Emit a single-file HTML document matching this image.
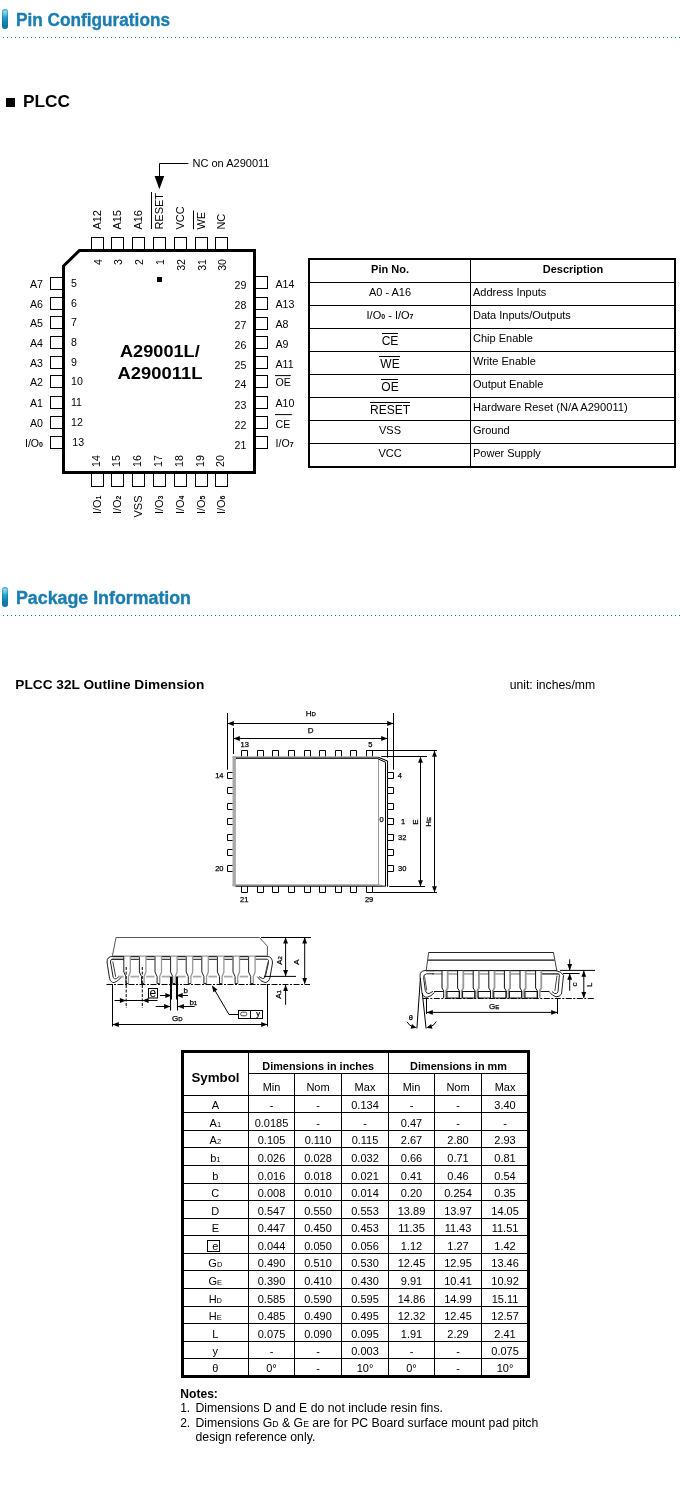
<!DOCTYPE html>
<html><head><meta charset="utf-8"><title>Pin Configurations</title>
<style>
html,body{margin:0;padding:0;background:#fff;}
body{width:680px;height:1487px;overflow:hidden;}
svg{display:block;will-change:transform;}
text{font-family:"Liberation Sans",sans-serif;}
</style></head><body>
<svg width="680" height="1487" viewBox="0 0 680 1487">
<defs>
<linearGradient id="pill" x1="0" y1="0" x2="0" y2="1">
<stop offset="0" stop-color="#2a9cc4"/><stop offset="0.12" stop-color="#8fdcef"/><stop offset="0.28" stop-color="#5ac4e0"/><stop offset="0.4" stop-color="#25a5cc"/><stop offset="0.65" stop-color="#1486b4"/><stop offset="1" stop-color="#0f6f9f"/>
</linearGradient>
<linearGradient id="pillh" x1="0" y1="0" x2="1" y2="0">
<stop offset="0" stop-color="#0a7096" stop-opacity="0.6"/><stop offset="0.3" stop-color="#0a7096" stop-opacity="0"/><stop offset="0.7" stop-color="#0a7096" stop-opacity="0"/><stop offset="1" stop-color="#0a7096" stop-opacity="0.6"/>
</linearGradient>
<pattern id="dots" x="3" y="0" width="4" height="1" patternUnits="userSpaceOnUse"><rect x="0" y="0" width="1" height="1" fill="#177583"/></pattern>
</defs>
<rect x="2" y="9" width="6" height="20" rx="3" fill="url(#pill)"/>
<rect x="2" y="9" width="6" height="20" rx="3" fill="url(#pillh)"/>
<text x="16" y="26" font-size="17.5" font-weight="bold" fill="#1a7db1" textLength="154" lengthAdjust="spacingAndGlyphs" stroke="#1a7db1" stroke-width="0.35">Pin Configurations</text>
<rect x="3" y="37" width="677" height="1" fill="url(#dots)"/>
<rect x="2" y="587" width="6" height="20" rx="3" fill="url(#pill)"/>
<rect x="2" y="587" width="6" height="20" rx="3" fill="url(#pillh)"/>
<text x="16" y="604" font-size="17.5" font-weight="bold" fill="#1a7db1" textLength="175" lengthAdjust="spacingAndGlyphs" stroke="#1a7db1" stroke-width="0.35">Package Information</text>
<rect x="3" y="615" width="677" height="1" fill="url(#dots)"/>
<rect x="6" y="98" width="9" height="9" fill="#000"/>
<text x="23" y="107.4" font-size="17" font-weight="bold" textLength="47" lengthAdjust="spacingAndGlyphs" >PLCC</text>
<path d="M63.5,266 L79.5,250.5 L254.5,250.5 L254.5,472.5 L63.5,472.5 Z" stroke="#000" stroke-width="3" fill="none" />
<rect x="91.5" y="237.5" width="12" height="12.5" stroke="#000" stroke-width="1" fill="none" />
<rect x="91.5" y="473.5" width="12" height="13" stroke="#000" stroke-width="1" fill="none" />
<rect x="111.5" y="237.5" width="12" height="12.5" stroke="#000" stroke-width="1" fill="none" />
<rect x="111.5" y="473.5" width="12" height="13" stroke="#000" stroke-width="1" fill="none" />
<rect x="132.5" y="237.5" width="12" height="12.5" stroke="#000" stroke-width="1" fill="none" />
<rect x="132.5" y="473.5" width="12" height="13" stroke="#000" stroke-width="1" fill="none" />
<rect x="153.5" y="237.5" width="12" height="12.5" stroke="#000" stroke-width="1" fill="none" />
<rect x="153.5" y="473.5" width="12" height="13" stroke="#000" stroke-width="1" fill="none" />
<rect x="174.5" y="237.5" width="12" height="12.5" stroke="#000" stroke-width="1" fill="none" />
<rect x="174.5" y="473.5" width="12" height="13" stroke="#000" stroke-width="1" fill="none" />
<rect x="195.5" y="237.5" width="12" height="12.5" stroke="#000" stroke-width="1" fill="none" />
<rect x="195.5" y="473.5" width="12" height="13" stroke="#000" stroke-width="1" fill="none" />
<rect x="215.5" y="237.5" width="12" height="12.5" stroke="#000" stroke-width="1" fill="none" />
<rect x="215.5" y="473.5" width="12" height="13" stroke="#000" stroke-width="1" fill="none" />
<rect x="50.5" y="277.5" width="12" height="12" stroke="#000" stroke-width="1" fill="none" />
<rect x="50.5" y="297.5" width="12" height="12" stroke="#000" stroke-width="1" fill="none" />
<rect x="50.5" y="316.5" width="12" height="12" stroke="#000" stroke-width="1" fill="none" />
<rect x="50.5" y="336.5" width="12" height="12" stroke="#000" stroke-width="1" fill="none" />
<rect x="50.5" y="356.5" width="12" height="12" stroke="#000" stroke-width="1" fill="none" />
<rect x="50.5" y="375.5" width="12" height="12" stroke="#000" stroke-width="1" fill="none" />
<rect x="50.5" y="396.5" width="12" height="12" stroke="#000" stroke-width="1" fill="none" />
<rect x="50.5" y="416.5" width="12" height="12" stroke="#000" stroke-width="1" fill="none" />
<rect x="50.5" y="436.5" width="12" height="12" stroke="#000" stroke-width="1" fill="none" />
<rect x="255.5" y="276.5" width="12" height="12" stroke="#000" stroke-width="1" fill="none" />
<rect x="255.5" y="297.5" width="12" height="12" stroke="#000" stroke-width="1" fill="none" />
<rect x="255.5" y="317.5" width="12" height="12" stroke="#000" stroke-width="1" fill="none" />
<rect x="255.5" y="336.5" width="12" height="12" stroke="#000" stroke-width="1" fill="none" />
<rect x="255.5" y="356.5" width="12" height="12" stroke="#000" stroke-width="1" fill="none" />
<rect x="255.5" y="375.5" width="12" height="12" stroke="#000" stroke-width="1" fill="none" />
<rect x="255.5" y="396.5" width="12" height="12" stroke="#000" stroke-width="1" fill="none" />
<rect x="255.5" y="416.5" width="12" height="12" stroke="#000" stroke-width="1" fill="none" />
<rect x="255.5" y="436.5" width="12" height="12" stroke="#000" stroke-width="1" fill="none" />
<text x="43" y="287.6" font-size="10.6" text-anchor="end" >A7</text>
<text x="71" y="286.7" font-size="10.6" >5</text>
<text x="43" y="307.6" font-size="10.6" text-anchor="end" >A6</text>
<text x="71" y="306.7" font-size="10.6" >6</text>
<text x="43" y="327.20000000000005" font-size="10.6" text-anchor="end" >A5</text>
<text x="71" y="326.3" font-size="10.6" >7</text>
<text x="43" y="347.1" font-size="10.6" text-anchor="end" >A4</text>
<text x="71" y="346.2" font-size="10.6" >8</text>
<text x="43" y="367.1" font-size="10.6" text-anchor="end" >A3</text>
<text x="71" y="366.2" font-size="10.6" >9</text>
<text x="43" y="386.0" font-size="10.6" text-anchor="end" >A2</text>
<text x="71" y="385.09999999999997" font-size="10.6" >10</text>
<text x="43" y="406.90000000000003" font-size="10.6" text-anchor="end" >A1</text>
<text x="71" y="406.0" font-size="10.6" >11</text>
<text x="43" y="427.20000000000005" font-size="10.6" text-anchor="end" >A0</text>
<text x="71" y="426.3" font-size="10.6" >12</text>
<text x="43" y="447.0" font-size="10.6" text-anchor="end" >I/O<tspan font-size="7" font-weight="bold">0</tspan></text>
<text x="72.3" y="446.09999999999997" font-size="10.6" >13</text>
<text x="246.3" y="289.3" font-size="10.6" text-anchor="end" >29</text>
<text x="275.5" y="288.0" font-size="10.6" >A14</text>
<text x="246.3" y="309.3" font-size="10.6" text-anchor="end" >28</text>
<text x="275.5" y="308.0" font-size="10.6" >A13</text>
<text x="246.3" y="328.90000000000003" font-size="10.6" text-anchor="end" >27</text>
<text x="275.5" y="327.6" font-size="10.6" >A8</text>
<text x="246.3" y="348.8" font-size="10.6" text-anchor="end" >26</text>
<text x="275.5" y="347.5" font-size="10.6" >A9</text>
<text x="246.3" y="368.8" font-size="10.6" text-anchor="end" >25</text>
<text x="275.5" y="367.5" font-size="10.6" >A11</text>
<text x="246.3" y="387.7" font-size="10.6" text-anchor="end" >24</text>
<text x="275.5" y="386.4" font-size="10.6" >OE</text>
<text x="246.3" y="408.6" font-size="10.6" text-anchor="end" >23</text>
<text x="275.5" y="407.3" font-size="10.6" >A10</text>
<text x="246.3" y="428.90000000000003" font-size="10.6" text-anchor="end" >22</text>
<text x="275.5" y="427.6" font-size="10.6" >CE</text>
<text x="246.3" y="448.7" font-size="10.6" text-anchor="end" >21</text>
<text x="275.5" y="447.4" font-size="10.6" >I/O<tspan font-size="7" font-weight="bold">7</tspan></text>
<line x1="275" y1="375.6" x2="290.8" y2="375.6" stroke="#000" stroke-width="1" />
<line x1="275" y1="414.6" x2="291.8" y2="414.6" stroke="#000" stroke-width="1" />
<text x="0" y="0" font-size="11" transform="translate(100.9,229.6) rotate(-90)" >A12</text>
<text x="0" y="0" font-size="10.6" text-anchor="end" transform="translate(101.5,259.0) rotate(-90)" >4</text>
<text x="0" y="0" font-size="11" transform="translate(120.9,229.6) rotate(-90)" >A15</text>
<text x="0" y="0" font-size="10.6" text-anchor="end" transform="translate(121.5,259.0) rotate(-90)" >3</text>
<text x="0" y="0" font-size="11" transform="translate(141.9,229.6) rotate(-90)" >A16</text>
<text x="0" y="0" font-size="10.6" text-anchor="end" transform="translate(142.5,259.0) rotate(-90)" >2</text>
<text x="0" y="0" font-size="11" transform="translate(162.9,229.6) rotate(-90)" >RESET</text>
<text x="0" y="0" font-size="10.6" text-anchor="end" transform="translate(163.5,259.0) rotate(-90)" >1</text>
<text x="0" y="0" font-size="11" transform="translate(183.9,229.6) rotate(-90)" >VCC</text>
<text x="0" y="0" font-size="10.6" text-anchor="end" transform="translate(184.5,259.0) rotate(-90)" >32</text>
<text x="0" y="0" font-size="11" transform="translate(204.9,229.6) rotate(-90)" >WE</text>
<text x="0" y="0" font-size="10.6" text-anchor="end" transform="translate(205.5,259.0) rotate(-90)" >31</text>
<text x="0" y="0" font-size="11" transform="translate(224.9,229.6) rotate(-90)" >NC</text>
<text x="0" y="0" font-size="10.6" text-anchor="end" transform="translate(225.5,259.0) rotate(-90)" >30</text>
<line x1="151.5" y1="192" x2="151.5" y2="229" stroke="#000" stroke-width="1" />
<line x1="193.5" y1="210.5" x2="193.5" y2="229.2" stroke="#000" stroke-width="1" />
<text x="0" y="0" font-size="10.6" transform="translate(100.3,467.0) rotate(-90)" >14</text>
<text x="0" y="0" font-size="11" text-anchor="end" transform="translate(100.7,495.5) rotate(-90)" >I/O<tspan font-size="7" font-weight="bold">1</tspan></text>
<text x="0" y="0" font-size="10.6" transform="translate(120.3,467.0) rotate(-90)" >15</text>
<text x="0" y="0" font-size="11" text-anchor="end" transform="translate(120.7,495.5) rotate(-90)" >I/O<tspan font-size="7" font-weight="bold">2</tspan></text>
<text x="0" y="0" font-size="10.6" transform="translate(141.3,467.0) rotate(-90)" >16</text>
<text x="0" y="0" font-size="11" text-anchor="end" transform="translate(141.7,495.5) rotate(-90)" >VSS</text>
<text x="0" y="0" font-size="10.6" transform="translate(162.3,467.0) rotate(-90)" >17</text>
<text x="0" y="0" font-size="11" text-anchor="end" transform="translate(162.7,495.5) rotate(-90)" >I/O<tspan font-size="7" font-weight="bold">3</tspan></text>
<text x="0" y="0" font-size="10.6" transform="translate(183.3,467.0) rotate(-90)" >18</text>
<text x="0" y="0" font-size="11" text-anchor="end" transform="translate(183.7,495.5) rotate(-90)" >I/O<tspan font-size="7" font-weight="bold">4</tspan></text>
<text x="0" y="0" font-size="10.6" transform="translate(204.3,467.0) rotate(-90)" >19</text>
<text x="0" y="0" font-size="11" text-anchor="end" transform="translate(204.7,495.5) rotate(-90)" >I/O<tspan font-size="7" font-weight="bold">5</tspan></text>
<text x="0" y="0" font-size="10.6" transform="translate(224.3,467.0) rotate(-90)" >20</text>
<text x="0" y="0" font-size="11" text-anchor="end" transform="translate(224.7,495.5) rotate(-90)" >I/O<tspan font-size="7" font-weight="bold">6</tspan></text>
<text x="120" y="356.8" font-size="17" font-weight="bold" textLength="79.7" lengthAdjust="spacingAndGlyphs" >A29001L/</text>
<text x="117.6" y="378.8" font-size="17" font-weight="bold" textLength="84.8" lengthAdjust="spacingAndGlyphs" >A290011L</text>
<rect x="157" y="277" width="5" height="5" fill="#000"/>
<path d="M188.4,163.5 L159.5,163.5 L159.5,177" stroke="#000" stroke-width="1" fill="none" />
<polygon points="154.6,176 164.2,176 159.4,189.2" fill="#000" stroke="none" stroke-width="1"/>
<text x="192.5" y="166.9" font-size="11" textLength="77" lengthAdjust="spacingAndGlyphs" >NC on A290011</text>
<rect x="309" y="259" width="366" height="208" stroke="#000" stroke-width="2" fill="none" />
<line x1="470.5" y1="259" x2="470.5" y2="467" stroke="#000" stroke-width="1" />
<line x1="309" y1="282.5" x2="675" y2="282.5" stroke="#000" stroke-width="1" />
<line x1="309" y1="305.5" x2="675" y2="305.5" stroke="#000" stroke-width="1" />
<line x1="309" y1="328.5" x2="675" y2="328.5" stroke="#000" stroke-width="1" />
<line x1="309" y1="351.5" x2="675" y2="351.5" stroke="#000" stroke-width="1" />
<line x1="309" y1="374.5" x2="675" y2="374.5" stroke="#000" stroke-width="1" />
<line x1="309" y1="397.5" x2="675" y2="397.5" stroke="#000" stroke-width="1" />
<line x1="309" y1="420.5" x2="675" y2="420.5" stroke="#000" stroke-width="1" />
<line x1="309" y1="443.5" x2="675" y2="443.5" stroke="#000" stroke-width="1" />
<text x="390" y="272.8" font-size="11" font-weight="bold" text-anchor="middle" >Pin No.</text>
<text x="573" y="272.8" font-size="11" font-weight="bold" text-anchor="middle" >Description</text>
<text x="390" y="295.9" font-size="11" text-anchor="middle" >A0 - A16</text>
<text x="473" y="295.5" font-size="11" >Address Inputs</text>
<text x="390" y="318.9" font-size="11" text-anchor="middle" >I/O<tspan font-size="7" font-weight="bold">0</tspan> - I/O<tspan font-size="7" font-weight="bold">7</tspan></text>
<text x="473" y="318.5" font-size="11" >Data Inputs/Outputs</text>
<text x="390" y="344.9" font-size="12" text-anchor="middle" >CE</text>
<text x="473" y="341.5" font-size="11" >Chip Enable</text>
<text x="390" y="367.9" font-size="12" text-anchor="middle" >WE</text>
<text x="473" y="364.5" font-size="11" >Write Enable</text>
<text x="390" y="390.9" font-size="12" text-anchor="middle" >OE</text>
<text x="473" y="387.5" font-size="11" >Output Enable</text>
<text x="390" y="413.9" font-size="12" text-anchor="middle" >RESET</text>
<text x="473" y="410.5" font-size="11" textLength="154.6" lengthAdjust="spacingAndGlyphs" >Hardware Reset (N/A A290011)</text>
<text x="390" y="433.9" font-size="11" text-anchor="middle" >VSS</text>
<text x="473" y="433.5" font-size="11" >Ground</text>
<text x="390" y="456.9" font-size="11" text-anchor="middle" >VCC</text>
<text x="473" y="456.5" font-size="11" >Power Supply</text>
<line x1="382" y1="333.5" x2="398" y2="333.5" stroke="#000" stroke-width="1" />
<line x1="379" y1="356.5" x2="400" y2="356.5" stroke="#000" stroke-width="1" />
<line x1="381" y1="379.5" x2="398" y2="379.5" stroke="#000" stroke-width="1" />
<line x1="370" y1="402.5" x2="410" y2="402.5" stroke="#000" stroke-width="1" />
<text x="15.3" y="688.7" font-size="12.6" font-weight="bold" textLength="189" lengthAdjust="spacingAndGlyphs" >PLCC 32L Outline Dimension</text>
<text x="509.7" y="688.7" font-size="12" textLength="85.4" lengthAdjust="spacingAndGlyphs" >unit: inches/mm</text>
<line x1="227.5" y1="713" x2="227.5" y2="769.7" stroke="#000" stroke-width="1" />
<line x1="393.5" y1="713" x2="393.5" y2="769.7" stroke="#000" stroke-width="1" />
<line x1="227.5" y1="723.5" x2="393.5" y2="723.5" stroke="#000" stroke-width="1" />
<polygon points="227.5,723.5 233.8,721.1 233.8,725.9" fill="#000" stroke="none" stroke-width="1"/>
<polygon points="393.5,723.5 387.2,725.9 387.2,721.1" fill="#000" stroke="none" stroke-width="1"/>
<text x="305.8" y="716.0" font-size="8" stroke="#000" stroke-width="0.25" >H<tspan font-size="6">D</tspan></text>
<line x1="233.5" y1="728" x2="233.5" y2="754" stroke="#000" stroke-width="1" />
<line x1="387.5" y1="728" x2="387.5" y2="757.6" stroke="#000" stroke-width="1" />
<line x1="233.5" y1="738.5" x2="387.5" y2="738.5" stroke="#000" stroke-width="1" />
<polygon points="233.5,738.5 239.8,736.1 239.8,740.9" fill="#000" stroke="none" stroke-width="1"/>
<polygon points="387.5,738.5 381.2,740.9 381.2,736.1" fill="#000" stroke="none" stroke-width="1"/>
<text x="307.8" y="732.9" font-size="8" stroke="#000" stroke-width="0.25" >D</text>
<text x="240.6" y="747.2" font-size="7.5" stroke="#000" stroke-width="0.25" >13</text>
<text x="368.2" y="747.2" font-size="7.5" stroke="#000" stroke-width="0.25" >5</text>
<rect x="232.5" y="756.3" width="146" height="1.5" fill="#a8a8a8"/>
<rect x="235.5" y="757.6" width="143" height="1.2" fill="#000"/>
<rect x="232.5" y="756.3" width="3.4" height="130" fill="#a8a8a8"/>
<rect x="232.5" y="884.2" width="146" height="2" fill="#a8a8a8"/>
<rect x="235.5" y="885.8" width="150" height="0.9" fill="#000"/>
<line x1="378.5" y1="757.5" x2="378.5" y2="885" stroke="#999" stroke-width="1" />
<path d="M378.3,757.2 L387.5,761 L387.5,886.8" stroke="#000" stroke-width="1.1" fill="none" />
<path d="M378.3,759 L385.5,762.2 L385.5,886.5" stroke="#000" stroke-width="1" fill="none" />
<path d="M378.5,884.8 L385.5,886.5" stroke="#777" stroke-width="1" fill="none" />
<path d="M241.5,756.3 L241.5,750.5 L247.5,750.5 L247.5,756.3" stroke="#000" stroke-width="1" fill="none" />
<path d="M241.5,886.3 L241.5,892.5 L247.5,892.5 L247.5,886.3" stroke="#000" stroke-width="1" fill="none" />
<path d="M257.5,756.3 L257.5,750.5 L263.5,750.5 L263.5,756.3" stroke="#000" stroke-width="1" fill="none" />
<path d="M257.5,886.3 L257.5,892.5 L263.5,892.5 L263.5,886.3" stroke="#000" stroke-width="1" fill="none" />
<path d="M272.5,756.3 L272.5,750.5 L278.5,750.5 L278.5,756.3" stroke="#000" stroke-width="1" fill="none" />
<path d="M272.5,886.3 L272.5,892.5 L278.5,892.5 L278.5,886.3" stroke="#000" stroke-width="1" fill="none" />
<path d="M288.5,756.3 L288.5,750.5 L294.5,750.5 L294.5,756.3" stroke="#000" stroke-width="1" fill="none" />
<path d="M288.5,886.3 L288.5,892.5 L294.5,892.5 L294.5,886.3" stroke="#000" stroke-width="1" fill="none" />
<path d="M304.5,756.3 L304.5,750.5 L310.5,750.5 L310.5,756.3" stroke="#000" stroke-width="1" fill="none" />
<path d="M304.5,886.3 L304.5,892.5 L310.5,892.5 L310.5,886.3" stroke="#000" stroke-width="1" fill="none" />
<path d="M319.5,756.3 L319.5,750.5 L325.5,750.5 L325.5,756.3" stroke="#000" stroke-width="1" fill="none" />
<path d="M319.5,886.3 L319.5,892.5 L325.5,892.5 L325.5,886.3" stroke="#000" stroke-width="1" fill="none" />
<path d="M335.5,756.3 L335.5,750.5 L341.5,750.5 L341.5,756.3" stroke="#000" stroke-width="1" fill="none" />
<path d="M335.5,886.3 L335.5,892.5 L341.5,892.5 L341.5,886.3" stroke="#000" stroke-width="1" fill="none" />
<path d="M350.5,756.3 L350.5,750.5 L356.5,750.5 L356.5,756.3" stroke="#000" stroke-width="1" fill="none" />
<path d="M350.5,886.3 L350.5,892.5 L356.5,892.5 L356.5,886.3" stroke="#000" stroke-width="1" fill="none" />
<path d="M366.5,756.3 L366.5,750.5 L372.5,750.5 L372.5,756.3" stroke="#000" stroke-width="1" fill="none" />
<path d="M366.5,886.3 L366.5,892.5 L372.5,892.5 L372.5,886.3" stroke="#000" stroke-width="1" fill="none" />
<path d="M232.5,772.5 L227.5,772.5 L227.5,778.5 L232.5,778.5" stroke="#000" stroke-width="1" fill="none" />
<path d="M387.8,772.5 L393.5,772.5 L393.5,778.5 L387.8,778.5" stroke="#000" stroke-width="1" fill="none" />
<path d="M232.5,787.5 L227.5,787.5 L227.5,793.5 L232.5,793.5" stroke="#000" stroke-width="1" fill="none" />
<path d="M387.8,787.5 L393.5,787.5 L393.5,793.5 L387.8,793.5" stroke="#000" stroke-width="1" fill="none" />
<path d="M232.5,803.5 L227.5,803.5 L227.5,809.5 L232.5,809.5" stroke="#000" stroke-width="1" fill="none" />
<path d="M387.8,803.5 L393.5,803.5 L393.5,809.5 L387.8,809.5" stroke="#000" stroke-width="1" fill="none" />
<path d="M232.5,818.5 L227.5,818.5 L227.5,824.5 L232.5,824.5" stroke="#000" stroke-width="1" fill="none" />
<path d="M387.8,818.5 L393.5,818.5 L393.5,824.5 L387.8,824.5" stroke="#000" stroke-width="1" fill="none" />
<path d="M232.5,834.5 L227.5,834.5 L227.5,840.5 L232.5,840.5" stroke="#000" stroke-width="1" fill="none" />
<path d="M387.8,834.5 L393.5,834.5 L393.5,840.5 L387.8,840.5" stroke="#000" stroke-width="1" fill="none" />
<path d="M232.5,849.5 L227.5,849.5 L227.5,855.5 L232.5,855.5" stroke="#000" stroke-width="1" fill="none" />
<path d="M387.8,849.5 L393.5,849.5 L393.5,855.5 L387.8,855.5" stroke="#000" stroke-width="1" fill="none" />
<path d="M232.5,865.5 L227.5,865.5 L227.5,871.5 L232.5,871.5" stroke="#000" stroke-width="1" fill="none" />
<path d="M387.8,865.5 L393.5,865.5 L393.5,871.5 L387.8,871.5" stroke="#000" stroke-width="1" fill="none" />
<text x="223.5" y="777.7" font-size="7.5" text-anchor="end" stroke="#000" stroke-width="0.25" >14</text>
<text x="223.5" y="870.7" font-size="7.5" text-anchor="end" stroke="#000" stroke-width="0.25" >20</text>
<text x="240" y="901.7" font-size="7.5" stroke="#000" stroke-width="0.25" >21</text>
<text x="364.9" y="901.7" font-size="7.5" stroke="#000" stroke-width="0.25" >29</text>
<text x="397.8" y="778.2" font-size="7.5" stroke="#000" stroke-width="0.25" >4</text>
<text x="401" y="824" font-size="7.5" stroke="#000" stroke-width="0.25" >1</text>
<text x="398.1" y="840.2" font-size="7.5" stroke="#000" stroke-width="0.25" >32</text>
<text x="398.1" y="871" font-size="7.5" stroke="#000" stroke-width="0.25" >30</text>
<text x="379.6" y="822" font-size="7.5" stroke="#000" stroke-width="0.25" >0</text>
<line x1="366.5" y1="750.5" x2="437" y2="750.5" stroke="#000" stroke-width="1" />
<line x1="381.2" y1="756.5" x2="427" y2="756.5" stroke="#000" stroke-width="1" />
<line x1="389.2" y1="886.5" x2="425" y2="886.5" stroke="#000" stroke-width="1" />
<line x1="372.6" y1="892.5" x2="437" y2="892.5" stroke="#000" stroke-width="1" />
<line x1="420.5" y1="757.5" x2="420.5" y2="886" stroke="#000" stroke-width="1" />
<polygon points="420.5,756.5 422.9,762.8 418.1,762.8" fill="#000" stroke="none" stroke-width="1"/>
<polygon points="420.5,886.5 418.1,880.2 422.9,880.2" fill="#000" stroke="none" stroke-width="1"/>
<line x1="434.5" y1="751" x2="434.5" y2="892" stroke="#000" stroke-width="1" />
<polygon points="434.5,750.5 436.9,756.8 432.1,756.8" fill="#000" stroke="none" stroke-width="1"/>
<polygon points="434.5,892.5 432.1,886.2 436.9,886.2" fill="#000" stroke="none" stroke-width="1"/>
<text x="0" y="0" font-size="8" stroke="#000" stroke-width="0.25" transform="translate(418.2,824.7) rotate(-90)" >E</text>
<text x="0" y="0" font-size="8" stroke="#000" stroke-width="0.25" transform="translate(430.8,826.7) rotate(-90)" >H<tspan font-size="6">E</tspan></text>
<path d="M112.3,956.4 L116,937.5 L259.4,937.5 L267.4,946.2 L267.4,956.4" stroke="#555" stroke-width="1" fill="none" />
<line x1="261" y1="937.5" x2="311" y2="937.5" stroke="#000" stroke-width="1" />
<line x1="112" y1="956.2" x2="268" y2="956.2" stroke="#999" stroke-width="1.2" />
<line x1="130.5" y1="956.7" x2="138.9" y2="956.7" stroke="#111" stroke-width="1" />
<line x1="130.5" y1="959.3" x2="138.9" y2="959.3" stroke="#111" stroke-width="1" />
<line x1="130.5" y1="976.6" x2="138.9" y2="976.6" stroke="#aaa" stroke-width="1.8" />
<path d="M123.8,956.5 L123.8,972 L125.89999999999999,976.5 L125.89999999999999,983.6" stroke="#222" stroke-width="1" fill="none" />
<path d="M130.3,956.5 L130.3,972 L128.5,976.5 L128.5,983.6" stroke="#999" stroke-width="1.3" fill="none" />
<line x1="125.89999999999999" y1="983.6" x2="128.5" y2="983.6" stroke="#111" stroke-width="1" />
<line x1="146.1" y1="956.7" x2="154.5" y2="956.7" stroke="#111" stroke-width="1" />
<line x1="146.1" y1="959.3" x2="154.5" y2="959.3" stroke="#111" stroke-width="1" />
<line x1="146.1" y1="976.6" x2="154.5" y2="976.6" stroke="#aaa" stroke-width="1.8" />
<path d="M139.4,956.5 L139.4,972 L141.5,976.5 L141.5,983.6" stroke="#222" stroke-width="1" fill="none" />
<path d="M145.9,956.5 L145.9,972 L144.1,976.5 L144.1,983.6" stroke="#999" stroke-width="1.3" fill="none" />
<line x1="141.5" y1="983.6" x2="144.1" y2="983.6" stroke="#111" stroke-width="1" />
<line x1="161.7" y1="956.7" x2="170.1" y2="956.7" stroke="#111" stroke-width="1" />
<line x1="161.7" y1="959.3" x2="170.1" y2="959.3" stroke="#111" stroke-width="1" />
<line x1="161.7" y1="976.6" x2="170.1" y2="976.6" stroke="#aaa" stroke-width="1.8" />
<path d="M155.0,956.5 L155.0,972 L157.1,976.5 L157.1,983.6" stroke="#222" stroke-width="1" fill="none" />
<path d="M161.5,956.5 L161.5,972 L159.7,976.5 L159.7,983.6" stroke="#999" stroke-width="1.3" fill="none" />
<line x1="157.1" y1="983.6" x2="159.7" y2="983.6" stroke="#111" stroke-width="1" />
<line x1="177.29999999999998" y1="956.7" x2="185.7" y2="956.7" stroke="#111" stroke-width="1" />
<line x1="177.29999999999998" y1="959.3" x2="185.7" y2="959.3" stroke="#111" stroke-width="1" />
<line x1="177.29999999999998" y1="976.6" x2="185.7" y2="976.6" stroke="#aaa" stroke-width="1.8" />
<path d="M170.6,956.5 L170.6,972 L172.7,976.5 L172.7,983.6" stroke="#222" stroke-width="1" fill="none" />
<path d="M177.1,956.5 L177.1,972 L175.29999999999998,976.5 L175.29999999999998,983.6" stroke="#999" stroke-width="1.3" fill="none" />
<line x1="172.7" y1="983.6" x2="175.29999999999998" y2="983.6" stroke="#111" stroke-width="1" />
<line x1="192.89999999999998" y1="956.7" x2="201.3" y2="956.7" stroke="#111" stroke-width="1" />
<line x1="192.89999999999998" y1="959.3" x2="201.3" y2="959.3" stroke="#111" stroke-width="1" />
<line x1="192.89999999999998" y1="976.6" x2="201.3" y2="976.6" stroke="#aaa" stroke-width="1.8" />
<path d="M186.2,956.5 L186.2,972 L188.29999999999998,976.5 L188.29999999999998,983.6" stroke="#222" stroke-width="1" fill="none" />
<path d="M192.7,956.5 L192.7,972 L190.89999999999998,976.5 L190.89999999999998,983.6" stroke="#999" stroke-width="1.3" fill="none" />
<line x1="188.29999999999998" y1="983.6" x2="190.89999999999998" y2="983.6" stroke="#111" stroke-width="1" />
<line x1="208.5" y1="956.7" x2="216.89999999999998" y2="956.7" stroke="#111" stroke-width="1" />
<line x1="208.5" y1="959.3" x2="216.89999999999998" y2="959.3" stroke="#111" stroke-width="1" />
<line x1="208.5" y1="976.6" x2="216.89999999999998" y2="976.6" stroke="#aaa" stroke-width="1.8" />
<path d="M201.8,956.5 L201.8,972 L203.9,976.5 L203.9,983.6" stroke="#222" stroke-width="1" fill="none" />
<path d="M208.3,956.5 L208.3,972 L206.5,976.5 L206.5,983.6" stroke="#999" stroke-width="1.3" fill="none" />
<line x1="203.9" y1="983.6" x2="206.5" y2="983.6" stroke="#111" stroke-width="1" />
<line x1="224.09999999999997" y1="956.7" x2="232.5" y2="956.7" stroke="#111" stroke-width="1" />
<line x1="224.09999999999997" y1="959.3" x2="232.5" y2="959.3" stroke="#111" stroke-width="1" />
<line x1="224.09999999999997" y1="976.6" x2="232.5" y2="976.6" stroke="#aaa" stroke-width="1.8" />
<path d="M217.39999999999998,956.5 L217.39999999999998,972 L219.49999999999997,976.5 L219.49999999999997,983.6" stroke="#222" stroke-width="1" fill="none" />
<path d="M223.89999999999998,956.5 L223.89999999999998,972 L222.09999999999997,976.5 L222.09999999999997,983.6" stroke="#999" stroke-width="1.3" fill="none" />
<line x1="219.49999999999997" y1="983.6" x2="222.09999999999997" y2="983.6" stroke="#111" stroke-width="1" />
<line x1="239.7" y1="956.7" x2="248.1" y2="956.7" stroke="#111" stroke-width="1" />
<line x1="239.7" y1="959.3" x2="248.1" y2="959.3" stroke="#111" stroke-width="1" />
<line x1="239.7" y1="976.6" x2="248.1" y2="976.6" stroke="#aaa" stroke-width="1.8" />
<path d="M233.0,956.5 L233.0,972 L235.1,976.5 L235.1,983.6" stroke="#222" stroke-width="1" fill="none" />
<path d="M239.5,956.5 L239.5,972 L237.7,976.5 L237.7,983.6" stroke="#999" stroke-width="1.3" fill="none" />
<line x1="235.1" y1="983.6" x2="237.7" y2="983.6" stroke="#111" stroke-width="1" />
<line x1="255.29999999999998" y1="956.7" x2="255.5" y2="956.7" stroke="#111" stroke-width="1" />
<line x1="255.29999999999998" y1="959.3" x2="255.5" y2="959.3" stroke="#111" stroke-width="1" />
<line x1="255.29999999999998" y1="976.6" x2="255.5" y2="976.6" stroke="#aaa" stroke-width="1.8" />
<path d="M248.6,956.5 L248.6,972 L250.7,976.5 L250.7,983.6" stroke="#222" stroke-width="1" fill="none" />
<path d="M255.1,956.5 L255.1,972 L253.29999999999998,976.5 L253.29999999999998,983.6" stroke="#999" stroke-width="1.3" fill="none" />
<line x1="250.7" y1="983.6" x2="253.29999999999998" y2="983.6" stroke="#111" stroke-width="1" />
<line x1="112.4" y1="956.7" x2="123.8" y2="956.7" stroke="#111" stroke-width="1" />
<line x1="111.5" y1="959.3" x2="123.8" y2="959.3" stroke="#111" stroke-width="1" />
<line x1="118" y1="976.6" x2="123.8" y2="976.6" stroke="#aaa" stroke-width="1.8" />
<path d="M123.8,956.4 L112.4,956.4 Q107,956.6 107,962 L109.5,978.2 Q110.5,982.6 114,982.6 Q118,981.5 121.2,977.3" stroke="#222" stroke-width="1" fill="none" />
<path d="M123.5,959.3 L112,959.3 Q110.4,959.5 110.5,962 L113.2,977.5 Q114.2,979.6 116.5,978.6 L118.5,977" stroke="#222" stroke-width="1" fill="none" />
<path d="M112.8,961.5 L115.7,976.8" stroke="#444" stroke-width="1" fill="none" />
<path d="M255.5,956.4 L267.4,956.4 Q272.5,956.8 272.5,963 L270,977.5 Q268.8,982.4 265,982.5 Q261,982 257.3,976.6" stroke="#222" stroke-width="1" fill="none" />
<path d="M255.8,959.2 L267.4,959.2 Q268.8,959.6 268.5,962.5 L265.5,976 Q264.7,979 262.5,978.5 L259,976.6" stroke="#222" stroke-width="1" fill="none" />
<path d="M268,962 L264.8,976.4" stroke="#444" stroke-width="1" fill="none" />
<line x1="106.5" y1="984.5" x2="310" y2="984.5" stroke="#000" stroke-width="1" stroke-dasharray="6,1.5,2,1.5"/>
<line x1="264" y1="976.4" x2="296" y2="976.4" stroke="#000" stroke-width="1" />
<line x1="285.6" y1="938" x2="285.6" y2="976" stroke="#000" stroke-width="1" />
<polygon points="285.6,937.3 288.0,943.5999999999999 283.20000000000005,943.5999999999999" fill="#000" stroke="none" stroke-width="1"/>
<polygon points="285.6,976.4 283.20000000000005,970.1 288.0,970.1" fill="#000" stroke="none" stroke-width="1"/>
<line x1="304.7" y1="938" x2="304.7" y2="983.5" stroke="#000" stroke-width="1" />
<polygon points="304.7,937.3 307.09999999999997,943.5999999999999 302.3,943.5999999999999" fill="#000" stroke="none" stroke-width="1"/>
<polygon points="304.7,984.2 302.3,977.9000000000001 307.09999999999997,977.9000000000001" fill="#000" stroke="none" stroke-width="1"/>
<line x1="285.6" y1="985" x2="285.6" y2="1004.8" stroke="#000" stroke-width="1" />
<polygon points="285.6,984.8 288.0,991.0999999999999 283.20000000000005,991.0999999999999" fill="#000" stroke="none" stroke-width="1"/>
<text x="0" y="0" font-size="8" stroke="#000" stroke-width="0.25" transform="translate(281.6,964.8) rotate(-90)" >A<tspan font-size="6">2</tspan></text>
<text x="0" y="0" font-size="8" stroke="#000" stroke-width="0.25" transform="translate(298.8,964.8) rotate(-90)" >A</text>
<text x="0" y="0" font-size="8" stroke="#000" stroke-width="0.25" transform="translate(281.4,998.8) rotate(-90)" >A<tspan font-size="6">1</tspan></text>
<line x1="112.5" y1="984" x2="112.5" y2="1026.5" stroke="#000" stroke-width="1" />
<line x1="267.5" y1="984" x2="267.5" y2="1026.5" stroke="#000" stroke-width="1" />
<line x1="112.5" y1="1024.5" x2="267.5" y2="1024.5" stroke="#000" stroke-width="1" />
<polygon points="112.5,1024.5 118.8,1022.1 118.8,1026.9" fill="#000" stroke="none" stroke-width="1"/>
<polygon points="267.5,1024.5 261.2,1026.9 261.2,1022.1" fill="#000" stroke="none" stroke-width="1"/>
<text x="172" y="1021.4" font-size="8" stroke="#000" stroke-width="0.25" >G<tspan font-size="6">D</tspan></text>
<line x1="126.2" y1="967" x2="126.2" y2="1008" stroke="#000" stroke-width="1" stroke-dasharray="3,1.5"/>
<line x1="142.3" y1="967" x2="142.3" y2="1008" stroke="#000" stroke-width="1" stroke-dasharray="3,1.5"/>
<line x1="114.5" y1="1000.5" x2="157.5" y2="1000.5" stroke="#000" stroke-width="1" />
<polygon points="126.2,1000.5 119.9,1002.9 119.9,998.1" fill="#000" stroke="none" stroke-width="1"/>
<polygon points="142.3,1000.5 148.60000000000002,998.1 148.60000000000002,1002.9" fill="#000" stroke="none" stroke-width="1"/>
<rect x="148.5" y="988.5" width="9" height="9.5" stroke="#000" stroke-width="1" fill="#fff" />
<text x="149.6" y="997.0" font-size="12" >e</text>
<line x1="170.5" y1="976.5" x2="170.5" y2="1010.5" stroke="#000" stroke-width="1.1" />
<line x1="177.5" y1="976.5" x2="177.5" y2="1010.5" stroke="#000" stroke-width="1.1" />
<line x1="171.5" y1="976.5" x2="171.5" y2="999.5" stroke="#000" stroke-width="1" />
<line x1="176.5" y1="976.5" x2="176.5" y2="999.5" stroke="#000" stroke-width="1" />
<line x1="160" y1="995.5" x2="171.5" y2="995.5" stroke="#000" stroke-width="1" />
<polygon points="171.6,995.5 165.29999999999998,997.9 165.29999999999998,993.1" fill="#000" stroke="none" stroke-width="1"/>
<line x1="188" y1="995.5" x2="176.5" y2="995.5" stroke="#000" stroke-width="1" />
<polygon points="176.4,995.5 182.70000000000002,993.1 182.70000000000002,997.9" fill="#000" stroke="none" stroke-width="1"/>
<text x="183.6" y="992.7" font-size="8" stroke="#000" stroke-width="0.25" >b</text>
<line x1="155.7" y1="1006.5" x2="170.5" y2="1006.5" stroke="#000" stroke-width="1" />
<polygon points="170.4,1006.5 164.1,1008.9 164.1,1004.1" fill="#000" stroke="none" stroke-width="1"/>
<line x1="194.7" y1="1006.5" x2="177.5" y2="1006.5" stroke="#000" stroke-width="1" />
<polygon points="177.6,1006.5 183.9,1004.1 183.9,1008.9" fill="#000" stroke="none" stroke-width="1"/>
<text x="189.4" y="1004.6" font-size="8" stroke="#000" stroke-width="0.25" >b<tspan font-size="6">1</tspan></text>
<line x1="212.5" y1="986.3" x2="229" y2="1014.5" stroke="#000" stroke-width="1" />
<polygon points="212.0,985.6 217.42560116617878,989.6016061757199 213.38794448437133,992.1972426140247" fill="#000" stroke="none" stroke-width="1"/>
<line x1="229" y1="1014.5" x2="238.5" y2="1014.5" stroke="#000" stroke-width="1" />
<rect x="238.5" y="1010.5" width="24" height="8" stroke="#000" stroke-width="1" fill="none" />
<line x1="250.5" y1="1010.5" x2="250.5" y2="1018.5" stroke="#000" stroke-width="1" />
<rect x="240.7" y="1012.2" width="6" height="3.6" rx="1.4" stroke="#444" stroke-width="1" fill="none"/>
<text x="256.2" y="1016.3" font-size="7.5" stroke="#000" stroke-width="0.25" >y</text>
<line x1="428.7" y1="952.5" x2="553.4" y2="952.5" stroke="#222" stroke-width="1" />
<line x1="428" y1="960.2" x2="554.5" y2="960.2" stroke="#111" stroke-width="1.2" />
<path d="M428.7,952.2 L426.2,970.6" stroke="#444" stroke-width="1" fill="none" />
<path d="M553.4,952.2 L556.8,970.6" stroke="#444" stroke-width="1" fill="none" />
<line x1="426" y1="970.6" x2="557" y2="970.6" stroke="#222" stroke-width="1.1" />
<line x1="432" y1="973.8" x2="559.5" y2="973.8" stroke="#aaa" stroke-width="1.8" />
<rect x="442.0" y="971.2" width="6" height="4" fill="#fff"/>
<path d="M442.0,970.8 L442.0,988 L443.7,990.8 L443.7,998" stroke="#111" stroke-width="1" fill="none" />
<path d="M447.7,970.8 L447.7,988 L446.1,990.8 L446.1,998" stroke="#999" stroke-width="1.8" fill="none" />
<rect x="447.0" y="991.5" width="12.300000000000011" height="6.5" stroke="#111" stroke-width="1" fill="none" />
<rect x="457.6" y="971.2" width="6" height="4" fill="#fff"/>
<path d="M457.6,970.8 L457.6,988 L459.3,990.8 L459.3,998" stroke="#111" stroke-width="1" fill="none" />
<path d="M463.3,970.8 L463.3,988 L461.70000000000005,990.8 L461.70000000000005,998" stroke="#999" stroke-width="1.8" fill="none" />
<rect x="462.6" y="991.5" width="12.299999999999955" height="6.5" stroke="#111" stroke-width="1" fill="none" />
<rect x="473.2" y="971.2" width="6" height="4" fill="#fff"/>
<path d="M473.2,970.8 L473.2,988 L474.9,990.8 L474.9,998" stroke="#111" stroke-width="1" fill="none" />
<path d="M478.9,970.8 L478.9,988 L477.3,990.8 L477.3,998" stroke="#999" stroke-width="1.8" fill="none" />
<rect x="478.2" y="991.5" width="12.300000000000011" height="6.5" stroke="#111" stroke-width="1" fill="none" />
<rect x="488.8" y="971.2" width="6" height="4" fill="#fff"/>
<path d="M488.8,970.8 L488.8,988 L490.5,990.8 L490.5,998" stroke="#111" stroke-width="1" fill="none" />
<path d="M494.5,970.8 L494.5,988 L492.90000000000003,990.8 L492.90000000000003,998" stroke="#999" stroke-width="1.8" fill="none" />
<rect x="493.8" y="991.5" width="12.299999999999955" height="6.5" stroke="#111" stroke-width="1" fill="none" />
<rect x="504.4" y="971.2" width="6" height="4" fill="#fff"/>
<path d="M504.4,970.8 L504.4,988 L506.09999999999997,990.8 L506.09999999999997,998" stroke="#111" stroke-width="1" fill="none" />
<path d="M510.09999999999997,970.8 L510.09999999999997,988 L508.5,990.8 L508.5,998" stroke="#999" stroke-width="1.8" fill="none" />
<rect x="509.4" y="991.5" width="12.300000000000068" height="6.5" stroke="#111" stroke-width="1" fill="none" />
<rect x="520.0" y="971.2" width="6" height="4" fill="#fff"/>
<path d="M520.0,970.8 L520.0,988 L521.7,990.8 L521.7,998" stroke="#111" stroke-width="1" fill="none" />
<path d="M525.7,970.8 L525.7,988 L524.1,990.8 L524.1,998" stroke="#999" stroke-width="1.8" fill="none" />
<rect x="525.0" y="991.5" width="12.300000000000068" height="6.5" stroke="#111" stroke-width="1" fill="none" />
<rect x="535.6" y="971.2" width="6" height="4" fill="#fff"/>
<path d="M535.6,970.8 L535.6,988 L537.3000000000001,990.8 L537.3000000000001,998" stroke="#111" stroke-width="1" fill="none" />
<path d="M541.3000000000001,970.8 L541.3000000000001,988 L539.7,990.8 L539.7,998" stroke="#999" stroke-width="1.8" fill="none" />
<line x1="540.6" y1="991.5" x2="549.5" y2="991.5" stroke="#111" stroke-width="1" />
<line x1="434" y1="991.5" x2="443.7" y2="991.5" stroke="#111" stroke-width="1" />
<path d="M434,970.6 L425,970.6 Q420,970.8 420,976 L422,993 Q423,997.3 427,997.3 Q431,996.5 434.5,992.5" stroke="#222" stroke-width="1" fill="none" />
<path d="M434,973.8 L426.5,973.8 Q423.5,974.2 423.6,977.5 L425.3,990.5 Q426.2,994 429,993.6 L433,991.4" stroke="#222" stroke-width="1" fill="none" />
<path d="M424.5,976.5 L426.8,990.5" stroke="#555" stroke-width="1" fill="none" />
<path d="M556,970.6 Q561.5,971.5 563.5,975.4 L561.5,994 Q559.5,997 556,996.8 Q552,995.5 549.6,992.2" stroke="#222" stroke-width="1" fill="none" />
<path d="M542.3,973.9 L558.5,973.9 Q560,974.5 559.2,977.6 L558,991.8 Q557,994.2 554.5,993.5 L552,991.6" stroke="#222" stroke-width="1" fill="none" />
<path d="M557,975.5 L554.9,990.9" stroke="#444" stroke-width="1" fill="none" />
<line x1="422.8" y1="998.5" x2="595" y2="998.5" stroke="#000" stroke-width="1" stroke-dasharray="6,1.5,2,1.5"/>
<line x1="426.5" y1="998" x2="426.5" y2="1014" stroke="#000" stroke-width="1" />
<line x1="557.5" y1="998" x2="557.5" y2="1014" stroke="#000" stroke-width="1" />
<line x1="426.5" y1="1012.4" x2="557.5" y2="1012.4" stroke="#000" stroke-width="1" />
<polygon points="426.5,1012.4 432.8,1010.0 432.8,1014.8" fill="#000" stroke="none" stroke-width="1"/>
<polygon points="557.5,1012.4 551.2,1014.8 551.2,1010.0" fill="#000" stroke="none" stroke-width="1"/>
<text x="489" y="1009.2" font-size="8" stroke="#000" stroke-width="0.25" >G<tspan font-size="6">E</tspan></text>
<line x1="560" y1="970.4" x2="595" y2="970.4" stroke="#000" stroke-width="1" />
<line x1="563" y1="973.5" x2="579.6" y2="973.5" stroke="#000" stroke-width="1" />
<line x1="569.7" y1="959.3" x2="569.7" y2="970" stroke="#000" stroke-width="1" />
<polygon points="569.7,970.4 567.3000000000001,964.1 572.1,964.1" fill="#000" stroke="none" stroke-width="1"/>
<line x1="569.7" y1="974" x2="569.7" y2="990.7" stroke="#000" stroke-width="1" />
<polygon points="569.7,973.5 572.1,979.8 567.3000000000001,979.8" fill="#000" stroke="none" stroke-width="1"/>
<text x="0" y="0" font-size="8" stroke="#000" stroke-width="0.25" transform="translate(577,986.5) rotate(-90)" >c</text>
<line x1="583.8" y1="971" x2="583.8" y2="997.7" stroke="#000" stroke-width="1" />
<polygon points="583.8,970.4 586.1999999999999,976.6999999999999 581.4,976.6999999999999" fill="#000" stroke="none" stroke-width="1"/>
<polygon points="583.8,998.2 581.4,991.9000000000001 586.1999999999999,991.9000000000001" fill="#000" stroke="none" stroke-width="1"/>
<text x="0" y="0" font-size="8" stroke="#000" stroke-width="0.25" transform="translate(592,987) rotate(-90)" >L</text>
<line x1="420.4" y1="978" x2="416.9" y2="1028.5" stroke="#000" stroke-width="1" />
<line x1="422.3" y1="993" x2="426.1" y2="1028.5" stroke="#000" stroke-width="1" />
<path d="M407,1021.8 Q409,1025.3 412.5,1026.8" stroke="#000" stroke-width="1" fill="none" />
<polygon points="416.6,1027.8 410.6565860703241,1028.628149056954 411.95080971281993,1024.0059217623261" fill="#000" stroke="none" stroke-width="1"/>
<path d="M436.2,1021.5 Q434.2,1025.3 430.6,1026.8" stroke="#000" stroke-width="1" fill="none" />
<polygon points="426.5,1027.8 431.1491902871801,1024.0059217623261 432.4434139296759,1028.628149056954" fill="#000" stroke="none" stroke-width="1"/>
<text x="408.8" y="1019.8" font-size="7.5" stroke="#000" stroke-width="0.25" >θ</text>
<rect x="182.5" y="1051.5" width="346.0" height="325.0" stroke="#000" stroke-width="3" fill="none" />
<line x1="248.5" y1="1051.5" x2="248.5" y2="1376.5" stroke="#000" stroke-width="1" />
<line x1="294.5" y1="1073.2" x2="294.5" y2="1376.5" stroke="#000" stroke-width="1" />
<line x1="341.5" y1="1073.2" x2="341.5" y2="1376.5" stroke="#000" stroke-width="1" />
<line x1="388.5" y1="1051.5" x2="388.5" y2="1376.5" stroke="#000" stroke-width="1" />
<line x1="434.5" y1="1073.2" x2="434.5" y2="1376.5" stroke="#000" stroke-width="1" />
<line x1="481.5" y1="1073.2" x2="481.5" y2="1376.5" stroke="#000" stroke-width="1" />
<line x1="248.5" y1="1073.5" x2="528.5" y2="1073.5" stroke="#000" stroke-width="1" />
<line x1="182.5" y1="1095.5" x2="528.5" y2="1095.5" stroke="#000" stroke-width="1" />
<line x1="182.5" y1="1112.5" x2="528.5" y2="1112.5" stroke="#000" stroke-width="1" />
<line x1="182.5" y1="1130.5" x2="528.5" y2="1130.5" stroke="#000" stroke-width="1" />
<line x1="182.5" y1="1147.5" x2="528.5" y2="1147.5" stroke="#000" stroke-width="1" />
<line x1="182.5" y1="1165.5" x2="528.5" y2="1165.5" stroke="#000" stroke-width="1" />
<line x1="182.5" y1="1183.5" x2="528.5" y2="1183.5" stroke="#000" stroke-width="1" />
<line x1="182.5" y1="1200.5" x2="528.5" y2="1200.5" stroke="#000" stroke-width="1" />
<line x1="182.5" y1="1218.5" x2="528.5" y2="1218.5" stroke="#000" stroke-width="1" />
<line x1="182.5" y1="1235.5" x2="528.5" y2="1235.5" stroke="#000" stroke-width="1" />
<line x1="182.5" y1="1253.5" x2="528.5" y2="1253.5" stroke="#000" stroke-width="1" />
<line x1="182.5" y1="1270.5" x2="528.5" y2="1270.5" stroke="#000" stroke-width="1" />
<line x1="182.5" y1="1288.5" x2="528.5" y2="1288.5" stroke="#000" stroke-width="1" />
<line x1="182.5" y1="1306.5" x2="528.5" y2="1306.5" stroke="#000" stroke-width="1" />
<line x1="182.5" y1="1323.5" x2="528.5" y2="1323.5" stroke="#000" stroke-width="1" />
<line x1="182.5" y1="1341.5" x2="528.5" y2="1341.5" stroke="#000" stroke-width="1" />
<line x1="182.5" y1="1358.5" x2="528.5" y2="1358.5" stroke="#000" stroke-width="1" />
<text x="215.5" y="1081.5" font-size="13" font-weight="bold" text-anchor="middle" textLength="48.2" lengthAdjust="spacingAndGlyphs" >Symbol</text>
<text x="318.2" y="1069.7" font-size="11" font-weight="bold" text-anchor="middle" textLength="111.7" lengthAdjust="spacingAndGlyphs" >Dimensions in inches</text>
<text x="458.5" y="1069.7" font-size="11" font-weight="bold" text-anchor="middle" textLength="96.9" lengthAdjust="spacingAndGlyphs" >Dimensions in mm</text>
<text x="271.5" y="1090.9" font-size="11" text-anchor="middle" >Min</text>
<text x="318.0" y="1090.9" font-size="11" text-anchor="middle" >Nom</text>
<text x="365.0" y="1090.9" font-size="11" text-anchor="middle" >Max</text>
<text x="411.5" y="1090.9" font-size="11" text-anchor="middle" >Min</text>
<text x="458.0" y="1090.9" font-size="11" text-anchor="middle" >Nom</text>
<text x="505.05" y="1090.9" font-size="11" text-anchor="middle" >Max</text>
<text x="215.35" y="1109.0" font-size="11" text-anchor="middle" >A</text>
<text x="271.5" y="1109.0" font-size="11" text-anchor="middle" >-</text>
<text x="318.0" y="1109.0" font-size="11" text-anchor="middle" >-</text>
<text x="365.0" y="1109.0" font-size="11" text-anchor="middle" >0.134</text>
<text x="411.5" y="1109.0" font-size="11" text-anchor="middle" >-</text>
<text x="458.0" y="1109.0" font-size="11" text-anchor="middle" >-</text>
<text x="505.05" y="1109.0" font-size="11" text-anchor="middle" >3.40</text>
<text x="215.35" y="1126.5" font-size="11" text-anchor="middle" >A<tspan font-size="7.5">1</tspan></text>
<text x="271.5" y="1126.5" font-size="11" text-anchor="middle" >0.0185</text>
<text x="318.0" y="1126.5" font-size="11" text-anchor="middle" >-</text>
<text x="365.0" y="1126.5" font-size="11" text-anchor="middle" >-</text>
<text x="411.5" y="1126.5" font-size="11" text-anchor="middle" >0.47</text>
<text x="458.0" y="1126.5" font-size="11" text-anchor="middle" >-</text>
<text x="505.05" y="1126.5" font-size="11" text-anchor="middle" >-</text>
<text x="215.35" y="1144.0" font-size="11" text-anchor="middle" >A<tspan font-size="7.5">2</tspan></text>
<text x="271.5" y="1144.0" font-size="11" text-anchor="middle" >0.105</text>
<text x="318.0" y="1144.0" font-size="11" text-anchor="middle" >0.110</text>
<text x="365.0" y="1144.0" font-size="11" text-anchor="middle" >0.115</text>
<text x="411.5" y="1144.0" font-size="11" text-anchor="middle" >2.67</text>
<text x="458.0" y="1144.0" font-size="11" text-anchor="middle" >2.80</text>
<text x="505.05" y="1144.0" font-size="11" text-anchor="middle" >2.93</text>
<text x="215.35" y="1161.5" font-size="11" text-anchor="middle" >b<tspan font-size="7.5">1</tspan></text>
<text x="271.5" y="1161.5" font-size="11" text-anchor="middle" >0.026</text>
<text x="318.0" y="1161.5" font-size="11" text-anchor="middle" >0.028</text>
<text x="365.0" y="1161.5" font-size="11" text-anchor="middle" >0.032</text>
<text x="411.5" y="1161.5" font-size="11" text-anchor="middle" >0.66</text>
<text x="458.0" y="1161.5" font-size="11" text-anchor="middle" >0.71</text>
<text x="505.05" y="1161.5" font-size="11" text-anchor="middle" >0.81</text>
<text x="215.35" y="1179.5" font-size="11" text-anchor="middle" >b</text>
<text x="271.5" y="1179.5" font-size="11" text-anchor="middle" >0.016</text>
<text x="318.0" y="1179.5" font-size="11" text-anchor="middle" >0.018</text>
<text x="365.0" y="1179.5" font-size="11" text-anchor="middle" >0.021</text>
<text x="411.5" y="1179.5" font-size="11" text-anchor="middle" >0.41</text>
<text x="458.0" y="1179.5" font-size="11" text-anchor="middle" >0.46</text>
<text x="505.05" y="1179.5" font-size="11" text-anchor="middle" >0.54</text>
<text x="215.35" y="1197.0" font-size="11" text-anchor="middle" >C</text>
<text x="271.5" y="1197.0" font-size="11" text-anchor="middle" >0.008</text>
<text x="318.0" y="1197.0" font-size="11" text-anchor="middle" >0.010</text>
<text x="365.0" y="1197.0" font-size="11" text-anchor="middle" >0.014</text>
<text x="411.5" y="1197.0" font-size="11" text-anchor="middle" >0.20</text>
<text x="458.0" y="1197.0" font-size="11" text-anchor="middle" >0.254</text>
<text x="505.05" y="1197.0" font-size="11" text-anchor="middle" >0.35</text>
<text x="215.35" y="1214.5" font-size="11" text-anchor="middle" >D</text>
<text x="271.5" y="1214.5" font-size="11" text-anchor="middle" >0.547</text>
<text x="318.0" y="1214.5" font-size="11" text-anchor="middle" >0.550</text>
<text x="365.0" y="1214.5" font-size="11" text-anchor="middle" >0.553</text>
<text x="411.5" y="1214.5" font-size="11" text-anchor="middle" >13.89</text>
<text x="458.0" y="1214.5" font-size="11" text-anchor="middle" >13.97</text>
<text x="505.05" y="1214.5" font-size="11" text-anchor="middle" >14.05</text>
<text x="215.35" y="1232.0" font-size="11" text-anchor="middle" >E</text>
<text x="271.5" y="1232.0" font-size="11" text-anchor="middle" >0.447</text>
<text x="318.0" y="1232.0" font-size="11" text-anchor="middle" >0.450</text>
<text x="365.0" y="1232.0" font-size="11" text-anchor="middle" >0.453</text>
<text x="411.5" y="1232.0" font-size="11" text-anchor="middle" >11.35</text>
<text x="458.0" y="1232.0" font-size="11" text-anchor="middle" >11.43</text>
<text x="505.05" y="1232.0" font-size="11" text-anchor="middle" >11.51</text>
<text x="215.35" y="1249.5" font-size="11" text-anchor="middle" >e</text>
<text x="271.5" y="1249.5" font-size="11" text-anchor="middle" >0.044</text>
<text x="318.0" y="1249.5" font-size="11" text-anchor="middle" >0.050</text>
<text x="365.0" y="1249.5" font-size="11" text-anchor="middle" >0.056</text>
<text x="411.5" y="1249.5" font-size="11" text-anchor="middle" >1.12</text>
<text x="458.0" y="1249.5" font-size="11" text-anchor="middle" >1.27</text>
<text x="505.05" y="1249.5" font-size="11" text-anchor="middle" >1.42</text>
<text x="215.35" y="1267.0" font-size="11" text-anchor="middle" >G<tspan font-size="7.5">D</tspan></text>
<text x="271.5" y="1267.0" font-size="11" text-anchor="middle" >0.490</text>
<text x="318.0" y="1267.0" font-size="11" text-anchor="middle" >0.510</text>
<text x="365.0" y="1267.0" font-size="11" text-anchor="middle" >0.530</text>
<text x="411.5" y="1267.0" font-size="11" text-anchor="middle" >12.45</text>
<text x="458.0" y="1267.0" font-size="11" text-anchor="middle" >12.95</text>
<text x="505.05" y="1267.0" font-size="11" text-anchor="middle" >13.46</text>
<text x="215.35" y="1284.5" font-size="11" text-anchor="middle" >G<tspan font-size="7.5">E</tspan></text>
<text x="271.5" y="1284.5" font-size="11" text-anchor="middle" >0.390</text>
<text x="318.0" y="1284.5" font-size="11" text-anchor="middle" >0.410</text>
<text x="365.0" y="1284.5" font-size="11" text-anchor="middle" >0.430</text>
<text x="411.5" y="1284.5" font-size="11" text-anchor="middle" >9.91</text>
<text x="458.0" y="1284.5" font-size="11" text-anchor="middle" >10.41</text>
<text x="505.05" y="1284.5" font-size="11" text-anchor="middle" >10.92</text>
<text x="215.35" y="1302.5" font-size="11" text-anchor="middle" >H<tspan font-size="7.5">D</tspan></text>
<text x="271.5" y="1302.5" font-size="11" text-anchor="middle" >0.585</text>
<text x="318.0" y="1302.5" font-size="11" text-anchor="middle" >0.590</text>
<text x="365.0" y="1302.5" font-size="11" text-anchor="middle" >0.595</text>
<text x="411.5" y="1302.5" font-size="11" text-anchor="middle" >14.86</text>
<text x="458.0" y="1302.5" font-size="11" text-anchor="middle" >14.99</text>
<text x="505.05" y="1302.5" font-size="11" text-anchor="middle" >15.11</text>
<text x="215.35" y="1320.0" font-size="11" text-anchor="middle" >H<tspan font-size="7.5">E</tspan></text>
<text x="271.5" y="1320.0" font-size="11" text-anchor="middle" >0.485</text>
<text x="318.0" y="1320.0" font-size="11" text-anchor="middle" >0.490</text>
<text x="365.0" y="1320.0" font-size="11" text-anchor="middle" >0.495</text>
<text x="411.5" y="1320.0" font-size="11" text-anchor="middle" >12.32</text>
<text x="458.0" y="1320.0" font-size="11" text-anchor="middle" >12.45</text>
<text x="505.05" y="1320.0" font-size="11" text-anchor="middle" >12.57</text>
<text x="215.35" y="1337.5" font-size="11" text-anchor="middle" >L</text>
<text x="271.5" y="1337.5" font-size="11" text-anchor="middle" >0.075</text>
<text x="318.0" y="1337.5" font-size="11" text-anchor="middle" >0.090</text>
<text x="365.0" y="1337.5" font-size="11" text-anchor="middle" >0.095</text>
<text x="411.5" y="1337.5" font-size="11" text-anchor="middle" >1.91</text>
<text x="458.0" y="1337.5" font-size="11" text-anchor="middle" >2.29</text>
<text x="505.05" y="1337.5" font-size="11" text-anchor="middle" >2.41</text>
<text x="215.35" y="1355.0" font-size="11" text-anchor="middle" >y</text>
<text x="271.5" y="1355.0" font-size="11" text-anchor="middle" >-</text>
<text x="318.0" y="1355.0" font-size="11" text-anchor="middle" >-</text>
<text x="365.0" y="1355.0" font-size="11" text-anchor="middle" >0.003</text>
<text x="411.5" y="1355.0" font-size="11" text-anchor="middle" >-</text>
<text x="458.0" y="1355.0" font-size="11" text-anchor="middle" >-</text>
<text x="505.05" y="1355.0" font-size="11" text-anchor="middle" >0.075</text>
<text x="215.35" y="1371.7" font-size="11" text-anchor="middle" >θ</text>
<text x="271.5" y="1371.7" font-size="11" text-anchor="middle" >0°</text>
<text x="318.0" y="1371.7" font-size="11" text-anchor="middle" >-</text>
<text x="365.0" y="1371.7" font-size="11" text-anchor="middle" >10°</text>
<text x="411.5" y="1371.7" font-size="11" text-anchor="middle" >0°</text>
<text x="458.0" y="1371.7" font-size="11" text-anchor="middle" >-</text>
<text x="505.05" y="1371.7" font-size="11" text-anchor="middle" >10°</text>
<rect x="207.5" y="1240.5" width="12" height="11" stroke="#000" stroke-width="1" fill="none" />
<text x="180.3" y="1397.7" font-size="12" font-weight="bold" textLength="37.6" lengthAdjust="spacingAndGlyphs" >Notes:</text>
<text x="180.2" y="1412.4" font-size="12" >1.</text>
<text x="195.5" y="1412.4" font-size="12" textLength="247.5" lengthAdjust="spacingAndGlyphs" >Dimensions D and E do not include resin fins.</text>
<text x="180.2" y="1427" font-size="12" >2.</text>
<text x="195.5" y="1427" font-size="12" textLength="342.8" lengthAdjust="spacingAndGlyphs" >Dimensions G<tspan font-size="8.5">D</tspan> &amp; G<tspan font-size="8.5">E</tspan> are for PC Board surface mount pad pitch</text>
<text x="195.5" y="1441" font-size="12" textLength="119.8" lengthAdjust="spacingAndGlyphs" >design reference only.</text>
</svg>
</body></html>
